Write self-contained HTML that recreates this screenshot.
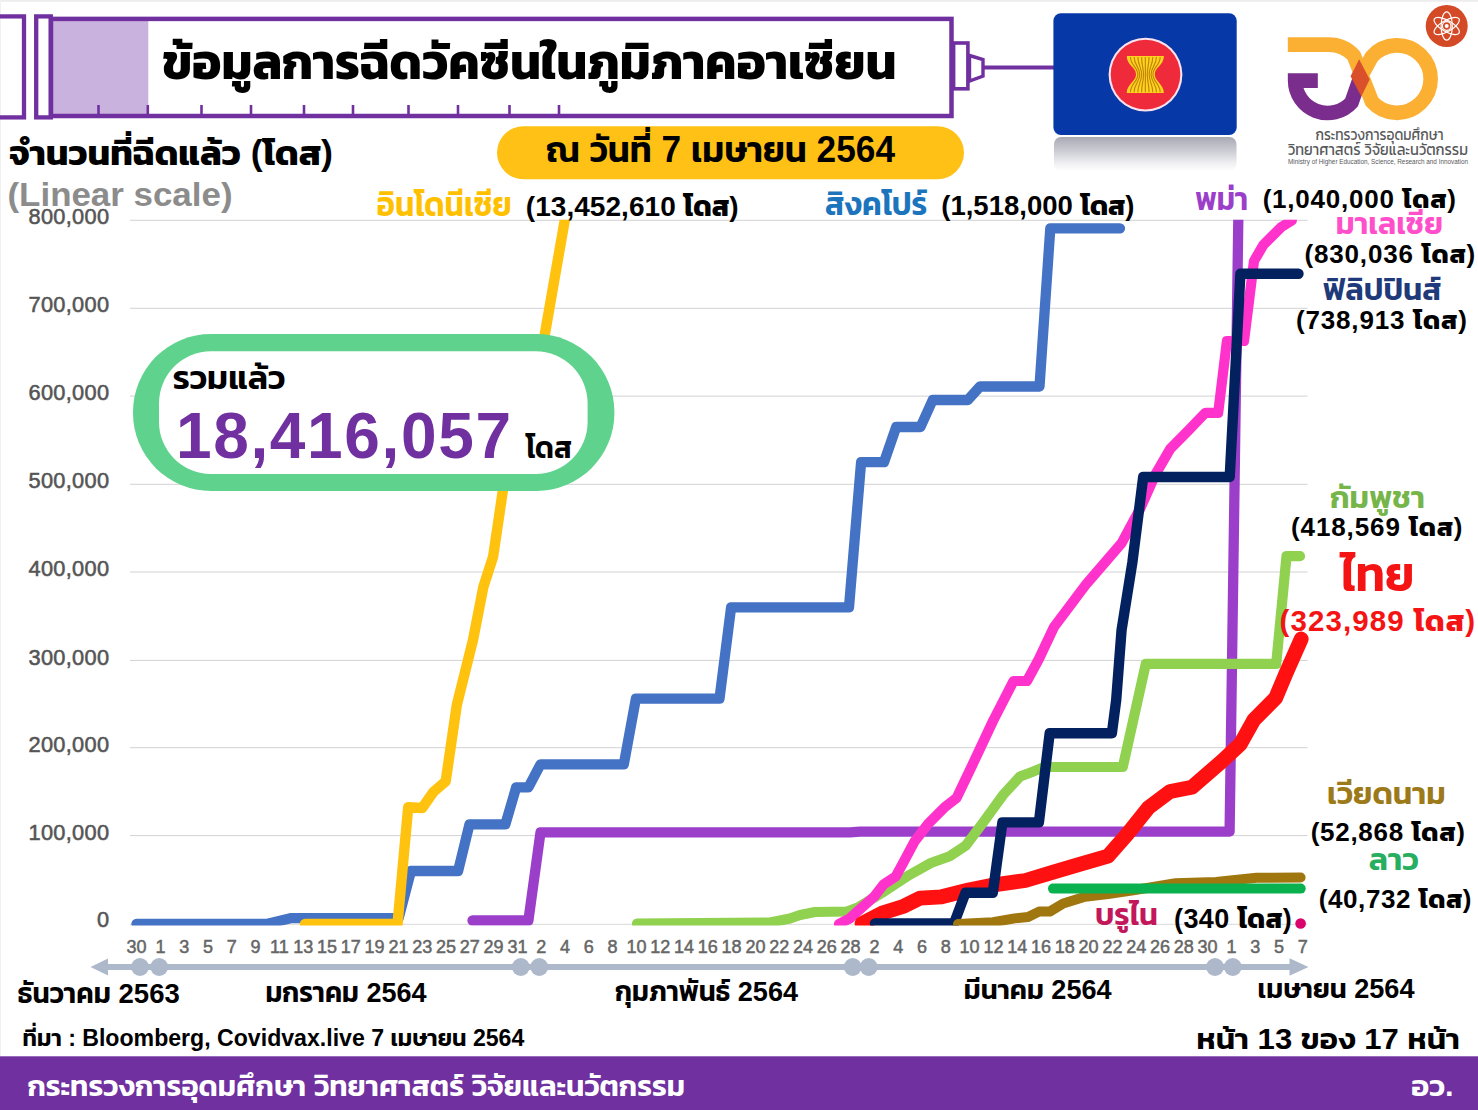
<!DOCTYPE html>
<html lang="th"><head><meta charset="utf-8"><title>ข้อมูลการฉีดวัคซีนในภูมิภาคอาเซียน</title>
<style>
html,body{margin:0;padding:0;background:#fff}
body{width:1478px;height:1110px;overflow:hidden}
svg{display:block}
svg text{font-family:'Liberation Sans','Kanit','Prompt','Noto Sans Thai','Loma',sans-serif}
</style></head><body>
<svg width="1478" height="1110" viewBox="0 0 1478 1110">
<defs>
<linearGradient id="refl" x1="0" y1="0" x2="0" y2="1"><stop offset="0" stop-color="#a9a9b4"/><stop offset="0.4" stop-color="#cbccd3"/><stop offset="0.75" stop-color="#eeeef1"/><stop offset="1" stop-color="#ffffff"/></linearGradient>
</defs>
<rect x="0" y="0" width="1478" height="1110" fill="#fff"/>
<rect x="0" y="0" width="1478" height="1.8" fill="#ededed"/>
<rect x="0" y="0" width="1" height="1110" fill="#f1f1f1"/>

<g stroke="#d2d2d2" stroke-width="1">
<line x1="130" x2="1307.5" y1="220.3" y2="220.3"/>
<line x1="130" x2="1307.5" y1="308.3" y2="308.3"/>
<line x1="130" x2="1307.5" y1="396.1" y2="396.1"/>
<line x1="130" x2="1307.5" y1="484.3" y2="484.3"/>
<line x1="130" x2="1307.5" y1="572.0" y2="572.0"/>
<line x1="130" x2="1307.5" y1="660.4" y2="660.4"/>
<line x1="130" x2="1307.5" y1="747.7" y2="747.7"/>
<line x1="130" x2="1307.5" y1="835.6" y2="835.6"/>
<line x1="130" x2="1307.5" y1="924.3" y2="924.3" stroke="#d9d9d9"/>
</g>
<clipPath id="plot"><rect x="120" y="219.8" width="1200" height="705.6"/></clipPath>
<g id="series" clip-path="url(#plot)">
<polyline points="136.5,923.8 267.6,923.8 290.5,918.2 398.6,918.2 411.0,871.0 458.1,871.0 469.5,824.3 505.4,824.3 516.2,787.3 528.4,787.3 540.5,764.4 623.8,764.4 635.9,698.6 719.5,698.6 731.1,607.3 849.0,607.3 861.1,462.2 884.0,462.2 896.2,427.0 920.5,427.0 932.7,400.0 967.8,400.0 980.0,386.5 1039.5,386.5 1050.3,228.3 1120.0,228.3" fill="none" stroke="#4472C4" stroke-width="10.3" stroke-linejoin="round" stroke-linecap="round" />
<polyline points="305.0,924.0 397.5,924.0 408.2,807.3 422.2,808.0 433.2,792.2 445.7,781.3 456.8,704.9 473.0,640.0 483.3,587.2 493.1,556.7 502.8,491.0 505.0,478.0 516.9,432.0 528.8,392.0 540.7,352.0 544.7,335.0 564.8,220.0 566.9,208.0" fill="none" stroke="#FFC20E" stroke-width="10.4" stroke-linejoin="round" stroke-linecap="round" />
<polyline points="472.5,920.5 528.4,920.5 540.5,832.4 850.0,832.4 860.0,831.7 1229.6,831.7 1238.3,220.0" fill="none" stroke="#9B3FCB" stroke-width="10.3" stroke-linejoin="round" stroke-linecap="round" />
<polyline points="637.0,923.6 770.0,922.6 790.0,918.5 800.0,915.0 815.0,912.0 847.0,911.5 857.8,907.6 882.2,892.7 909.2,875.1 930.8,863.0 949.7,856.2 965.9,845.4 982.2,823.8 1003.8,794.1 1020.0,776.5 1030.8,772.4 1044.3,767.0 1122.8,767.0 1145.8,663.9 1276.2,663.9 1286.5,556.2 1300.0,556.2" fill="none" stroke="#90D14F" stroke-width="10.2" stroke-linejoin="round" stroke-linecap="round" />
<polyline points="839.0,924.0 849.7,918.4 874.0,896.8 883.5,884.6 895.7,876.5 902.4,864.3 914.6,841.4 928.1,823.8 944.3,807.6 956.5,798.1 971.4,767.0 993.0,721.0 1013.5,681.0 1027.0,681.0 1038.9,659.0 1054.0,627.0 1086.5,583.8 1121.6,543.2 1140.5,508.0 1155.3,474.6 1170.2,448.9 1189.2,429.7 1205.4,412.8 1218.2,412.8 1226.9,341.0 1244.0,341.0 1254.0,261.0 1263.4,244.9 1281.0,227.3 1291.8,220.5" fill="none" stroke="#FF33CC" stroke-width="10.2" stroke-linejoin="round" stroke-linecap="round" />
<polyline points="862.0,923.5 882.2,913.0 903.8,906.2 920.0,898.1 941.6,896.8 968.6,890.0 995.7,884.6 1025.4,880.5 1052.4,872.4 1079.5,864.3 1108.0,856.2 1126.9,834.6 1148.5,807.6 1170.2,791.4 1191.8,787.3 1221.5,761.6 1240.4,744.0 1254.0,719.7 1275.6,698.1 1286.4,672.4 1301.2,638.9" fill="none" stroke="#FF1111" stroke-width="14.8" stroke-linejoin="round" stroke-linecap="round" />
<polyline points="875.0,923.5 954.0,923.5 965.5,892.7 992.8,892.7 1002.4,822.4 1038.9,822.4 1049.7,733.2 1111.9,733.2 1116.2,700.0 1121.6,629.7 1132.4,562.2 1143.2,477.0 1229.7,477.0 1240.4,273.8 1298.5,273.8" fill="none" stroke="#03205F" stroke-width="10.4" stroke-linejoin="round" stroke-linecap="round" />
<polyline points="958.0,924.0 993.0,922.2 1014.6,918.4 1028.1,917.0 1038.9,911.6 1049.7,911.6 1063.2,903.5 1084.9,896.8 1108.0,894.0 1135.0,890.0 1175.6,883.2 1216.0,881.9 1256.6,877.8 1300.6,877.6" fill="none" stroke="#A0770F" stroke-width="10" stroke-linejoin="round" stroke-linecap="round" />
<polyline points="1053.0,888.6 1300.7,888.6" fill="none" stroke="#09B24F" stroke-width="10" stroke-linejoin="round" stroke-linecap="round" />
</g>
<circle cx="1300.6" cy="923.5" r="5.3" fill="#D9046C"/>
<g fill="none" stroke="#7030A0" stroke-width="4.3">
<rect x="-3" y="16.4" width="27" height="101"/>
<rect x="36.2" y="16.4" width="14.6" height="101"/>
</g>
<rect x="53" y="21" width="95.3" height="93" fill="#C9B2DE"/>
<rect x="51" y="18.9" width="900.5" height="97.1" fill="none" stroke="#7030A0" stroke-width="4.5"/>
<g stroke="#7030A0" stroke-width="2.6">
<line x1="98.5" x2="98.5" y1="105" y2="114.5"/>
<line x1="147.8" x2="147.8" y1="105" y2="114.5"/>
<line x1="201.5" x2="201.5" y1="105" y2="114.5"/>
<line x1="251" x2="251" y1="105" y2="114.5"/>
<line x1="304" x2="304" y1="105" y2="114.5"/>
<line x1="353" x2="353" y1="105" y2="114.5"/>
<line x1="408.5" x2="408.5" y1="105" y2="114.5"/>
<line x1="458" x2="458" y1="105" y2="114.5"/>
<line x1="509.5" x2="509.5" y1="105" y2="114.5"/>
<line x1="559" x2="559" y1="105" y2="114.5"/>
</g>
<rect x="953.6" y="43" width="14.3" height="45.8" fill="#fff" stroke="#7030A0" stroke-width="3.6"/>
<path d="M969.5 55.5 L983 59.5 L983 76 L969.5 81 Z" fill="#fff" stroke="#7030A0" stroke-width="3.4" stroke-linejoin="miter"/>
<line x1="984" x2="1054" y1="67.6" y2="67.6" stroke="#7030A0" stroke-width="4"/>
<rect x="1054" y="137" width="182.5" height="34" rx="7" fill="url(#refl)"/>
<rect x="1053.4" y="13.3" width="183.3" height="121.6" rx="7.5" fill="#0638A7"/>
<circle cx="1145.5" cy="74.6" r="36.9" fill="#FBE3EE"/>
<circle cx="1145.5" cy="74.6" r="34.8" fill="#EE2A3B"/>
<path d="M1126.7 56.1 L1163.9 56.1 C1163.9 65.1 1154.8 67.4 1154.8 74.4 C1154.8 81.4 1163.9 84.1 1163.9 93.1 L1126.7 93.1 C1126.7 84.1 1136.0 81.4 1136.0 74.4 C1136.0 67.4 1126.7 65.1 1126.7 56.1 Z" fill="#FFD21F"/>
<g fill="none" stroke="#C0850A" stroke-width="1.15">
<path d="M1130.42 56.9 C1130.42 65.1 1137.88 67.4 1137.88 74.4 C1137.88 81.4 1130.42 84.1 1130.42 92.3"/>
<path d="M1134.14 56.9 C1134.14 65.1 1139.76 67.4 1139.76 74.4 C1139.76 81.4 1134.14 84.1 1134.14 92.3"/>
<path d="M1137.86 56.9 C1137.86 65.1 1141.64 67.4 1141.64 74.4 C1141.64 81.4 1137.86 84.1 1137.86 92.3"/>
<path d="M1141.58 56.9 C1141.58 65.1 1143.52 67.4 1143.52 74.4 C1143.52 81.4 1141.58 84.1 1141.58 92.3"/>
<path d="M1145.30 56.9 C1145.30 65.1 1145.40 67.4 1145.40 74.4 C1145.40 81.4 1145.30 84.1 1145.30 92.3"/>
<path d="M1149.02 56.9 C1149.02 65.1 1147.28 67.4 1147.28 74.4 C1147.28 81.4 1149.02 84.1 1149.02 92.3"/>
<path d="M1152.74 56.9 C1152.74 65.1 1149.16 67.4 1149.16 74.4 C1149.16 81.4 1152.74 84.1 1152.74 92.3"/>
<path d="M1156.46 56.9 C1156.46 65.1 1151.04 67.4 1151.04 74.4 C1151.04 81.4 1156.46 84.1 1156.46 92.3"/>
<path d="M1160.18 56.9 C1160.18 65.1 1152.92 67.4 1152.92 74.4 C1152.92 81.4 1160.18 84.1 1160.18 92.3"/>
</g>
<g fill="none" stroke-width="14.59">
<path d="M1317.82 80.58 L1295.12 80.58 A32.43 32.43 0 0 0 1351.65 102.27 L1360.30 77.50" stroke="#7B2D8E" stroke-linejoin="miter"/>
<path d="M1287.83 44.58 L1328.85 44.58 A33.72 33.72 0 0 1 1353.91 55.74 L1371.88 101.68 A33.72 33.72 0 1 0 1371.88 56.55 L1360.30 77.50" stroke="#FBB034" stroke-linejoin="round"/>
</g>
<path d="M1359.16 59.18 L1369.70 79.44 L1361.27 96.47 L1350.57 76.20 Z" fill="#D9502A"/>
<circle cx="1446.7" cy="26" r="21" fill="#D44A27"/>
<g fill="none" stroke="#fff" stroke-width="1.2">
<ellipse cx="1446.7" cy="26" rx="14.2" ry="5.6" transform="rotate(90 1446.7 26)"/>
<ellipse cx="1446.7" cy="26" rx="14.2" ry="5.6" transform="rotate(150 1446.7 26)"/>
<ellipse cx="1446.7" cy="26" rx="14.2" ry="5.6" transform="rotate(210 1446.7 26)"/>
<circle cx="1446.7" cy="26" r="4.3" fill="#D44A27"/>
</g>
<circle cx="1446.7" cy="26" r="2" fill="#fff"/>
<text x="1315.5" y="140.1" font-size="15.5" font-weight="400" fill="#58595B" textLength="128.0" lengthAdjust="spacingAndGlyphs" >กระทรวงการอุดมศึกษา</text>
<text x="1288.0" y="155.0" font-size="15.5" font-weight="400" fill="#58595B" textLength="180.0" lengthAdjust="spacingAndGlyphs" >วิทยาศาสตร์ วิจัยและนวัตกรรม</text>
<text x="1288.0" y="164.3" font-size="6.4" font-weight="400" fill="#58595B" textLength="180.0" lengthAdjust="spacingAndGlyphs" >Ministry of Higher Education, Science, Research and Innovation</text>
<text x="162.0" y="78.6" font-size="50" font-weight="700" fill="#000" textLength="734.5" lengthAdjust="spacingAndGlyphs" >ข้อมูลการฉีดวัคซีนในภูมิภาคอาเซียน</text>
<text x="9.0" y="165.0" font-size="34.5" font-weight="700" fill="#000" textLength="324.0" lengthAdjust="spacingAndGlyphs" >จำนวนที่ฉีดแล้ว (โดส)</text>
<text x="7.5" y="205.5" font-size="33.5" font-weight="700" fill="#8C8C8C" textLength="225.0" lengthAdjust="spacingAndGlyphs" >(Linear scale)</text>
<rect x="497" y="126.2" width="467" height="53" rx="26.5" fill="#FFC115"/>
<text x="546.0" y="162.4" font-size="36" font-weight="600" fill="#000" textLength="349.0" lengthAdjust="spacingAndGlyphs" >ณ วันที่ 7 เมษายน 2564</text>
<text x="109.4" y="224.4" font-size="21.8" font-weight="400" fill="#555" stroke="#555" stroke-width="0.55" text-anchor="end" letter-spacing="0.3">800,000</text>
<text x="109.4" y="312.4" font-size="21.8" font-weight="400" fill="#555" stroke="#555" stroke-width="0.55" text-anchor="end" letter-spacing="0.3">700,000</text>
<text x="109.4" y="400.2" font-size="21.8" font-weight="400" fill="#555" stroke="#555" stroke-width="0.55" text-anchor="end" letter-spacing="0.3">600,000</text>
<text x="109.4" y="488.4" font-size="21.8" font-weight="400" fill="#555" stroke="#555" stroke-width="0.55" text-anchor="end" letter-spacing="0.3">500,000</text>
<text x="109.4" y="576.1" font-size="21.8" font-weight="400" fill="#555" stroke="#555" stroke-width="0.55" text-anchor="end" letter-spacing="0.3">400,000</text>
<text x="109.4" y="664.5" font-size="21.8" font-weight="400" fill="#555" stroke="#555" stroke-width="0.55" text-anchor="end" letter-spacing="0.3">300,000</text>
<text x="109.4" y="751.8" font-size="21.8" font-weight="400" fill="#555" stroke="#555" stroke-width="0.55" text-anchor="end" letter-spacing="0.3">200,000</text>
<text x="109.4" y="839.7" font-size="21.8" font-weight="400" fill="#555" stroke="#555" stroke-width="0.55" text-anchor="end" letter-spacing="0.3">100,000</text>
<text x="109.4" y="927.4" font-size="21.8" font-weight="400" fill="#555" stroke="#555" stroke-width="0.55" text-anchor="end" letter-spacing="0.3">0</text>
<g font-size="18" font-weight="400" fill="#666" stroke="#666" stroke-width="0.5" text-anchor="middle">
<text x="136.6" y="952.8">30</text>
<text x="160.4" y="952.8">1</text>
<text x="184.2" y="952.8">3</text>
<text x="208.0" y="952.8">5</text>
<text x="231.8" y="952.8">7</text>
<text x="255.6" y="952.8">9</text>
<text x="279.4" y="952.8">11</text>
<text x="303.2" y="952.8">13</text>
<text x="327.0" y="952.8">15</text>
<text x="350.8" y="952.8">17</text>
<text x="374.6" y="952.8">19</text>
<text x="398.4" y="952.8">21</text>
<text x="422.2" y="952.8">23</text>
<text x="446.0" y="952.8">25</text>
<text x="469.8" y="952.8">27</text>
<text x="493.6" y="952.8">29</text>
<text x="517.4" y="952.8">31</text>
<text x="541.2" y="952.8">2</text>
<text x="565.0" y="952.8">4</text>
<text x="588.8" y="952.8">6</text>
<text x="612.6" y="952.8">8</text>
<text x="636.4" y="952.8">10</text>
<text x="660.2" y="952.8">12</text>
<text x="684.0" y="952.8">14</text>
<text x="707.8" y="952.8">16</text>
<text x="731.6" y="952.8">18</text>
<text x="755.4" y="952.8">20</text>
<text x="779.2" y="952.8">22</text>
<text x="803.0" y="952.8">24</text>
<text x="826.8" y="952.8">26</text>
<text x="850.6" y="952.8">28</text>
<text x="874.4" y="952.8">2</text>
<text x="898.2" y="952.8">4</text>
<text x="922.0" y="952.8">6</text>
<text x="945.8" y="952.8">8</text>
<text x="969.6" y="952.8">10</text>
<text x="993.4" y="952.8">12</text>
<text x="1017.2" y="952.8">14</text>
<text x="1041.0" y="952.8">16</text>
<text x="1064.8" y="952.8">18</text>
<text x="1088.6" y="952.8">20</text>
<text x="1112.4" y="952.8">22</text>
<text x="1136.2" y="952.8">24</text>
<text x="1160.0" y="952.8">26</text>
<text x="1183.8" y="952.8">28</text>
<text x="1207.6" y="952.8">30</text>
<text x="1231.4" y="952.8">1</text>
<text x="1255.2" y="952.8">3</text>
<text x="1279.0" y="952.8">5</text>
<text x="1302.8" y="952.8">7</text>
</g>
<line x1="104" x2="1294" y1="967" y2="967" stroke="#ADB9CA" stroke-width="6"/>
<path d="M90.5 967 L108 958.4 L108 975.6 Z" fill="#ADB9CA"/>
<path d="M1308.5 967 L1289.5 958.3 L1289.5 975.7 Z" fill="#ADB9CA"/>
<circle cx="140" cy="967" r="9" fill="#ADB9CA"/>
<circle cx="159.2" cy="967" r="9" fill="#ADB9CA"/>
<circle cx="520.8" cy="967" r="9" fill="#ADB9CA"/>
<circle cx="539.3" cy="967" r="9" fill="#ADB9CA"/>
<circle cx="852.7" cy="967" r="9" fill="#ADB9CA"/>
<circle cx="868.7" cy="967" r="9" fill="#ADB9CA"/>
<circle cx="1215" cy="967" r="9" fill="#ADB9CA"/>
<circle cx="1232.8" cy="967" r="9" fill="#ADB9CA"/>
<text x="17.5" y="1003.0" font-size="28" font-weight="600" fill="#000" textLength="162.3" lengthAdjust="spacingAndGlyphs" >ธันวาคม 2563</text>
<text x="265.4" y="1001.8" font-size="28" font-weight="600" fill="#000" textLength="161.2" lengthAdjust="spacingAndGlyphs" >มกราคม 2564</text>
<text x="615.0" y="1000.6" font-size="28" font-weight="600" fill="#000" textLength="183.0" lengthAdjust="spacingAndGlyphs" >กุมภาพันธ์ 2564</text>
<text x="963.8" y="999.2" font-size="27" font-weight="600" fill="#000" textLength="147.8" lengthAdjust="spacingAndGlyphs" >มีนาคม 2564</text>
<text x="1257.6" y="997.6" font-size="27" font-weight="600" fill="#000" textLength="156.9" lengthAdjust="spacingAndGlyphs" >เมษายน 2564</text>
<text x="22.5" y="1045.5" font-size="24" font-weight="600" fill="#000" textLength="501.8" lengthAdjust="spacingAndGlyphs" >ที่มา : Bloomberg, Covidvax.live 7 เมษายน 2564</text>
<text x="1196.5" y="1049.0" font-size="29" font-weight="600" fill="#000" textLength="263.5" lengthAdjust="spacingAndGlyphs" >หน้า 13 ของ 17 หน้า</text>
<rect x="0" y="1056.3" width="1478" height="53.7" fill="#7030A0"/>
<text x="27.5" y="1095.6" font-size="29" font-weight="600" fill="#fff" textLength="657.5" lengthAdjust="spacingAndGlyphs" >กระทรวงการอุดมศึกษา วิทยาศาสตร์ วิจัยและนวัตกรรม</text>
<text x="1411.0" y="1095.6" font-size="29" font-weight="600" fill="#fff" textLength="42.6" lengthAdjust="spacingAndGlyphs" >อว.</text>
<rect x="133" y="334" width="481.4" height="157" rx="78" fill="#5FD38D"/>
<rect x="159" y="351.3" width="428.6" height="122.6" rx="52" fill="#fff"/>
<text x="172.8" y="389.2" font-size="32" font-weight="600" fill="#000" textLength="112.6" lengthAdjust="spacingAndGlyphs" >รวมแล้ว</text>
<text x="176.0" y="457.8" font-size="64" font-weight="700" fill="#7030A0" textLength="335.0" lengthAdjust="spacing" >18,416,057</text>
<text x="525.8" y="457.8" font-size="30" font-weight="600" fill="#000" textLength="46.2" lengthAdjust="spacingAndGlyphs" >โดส</text>
<text x="376.6" y="215.6" font-size="33.5" font-weight="600" fill="#FFC000" textLength="135.2" lengthAdjust="spacingAndGlyphs" >อินโดนีเซีย</text>
<text x="525.8" y="215.8" font-size="28" font-weight="700" fill="#000" textLength="212.8" lengthAdjust="spacing" >(13,452,610 โดส)</text>
<text x="824.9" y="215.0" font-size="33" font-weight="600" fill="#1C75BC" textLength="102.3" lengthAdjust="spacingAndGlyphs" >สิงคโปร์</text>
<text x="941.2" y="215.3" font-size="27.5" font-weight="700" fill="#000" textLength="193.2" lengthAdjust="spacing" >(1,518,000 โดส)</text>
<text x="1195.3" y="209.9" font-size="32" font-weight="600" fill="#9B3FCB" textLength="52.9" lengthAdjust="spacingAndGlyphs" >พม่า</text>
<text x="1262.7" y="208.3" font-size="26" font-weight="700" fill="#000" textLength="193.1" lengthAdjust="spacing" >(1,040,000 โดส)</text>
<text x="1335.8" y="234.3" font-size="30" font-weight="600" fill="#FF4FCB" textLength="107.2" lengthAdjust="spacingAndGlyphs" >มาเลเซีย</text>
<text x="1304.5" y="263.4" font-size="26" font-weight="700" fill="#000" textLength="170.7" lengthAdjust="spacing" >(830,036 โดส)</text>
<text x="1322.8" y="300.2" font-size="30" font-weight="600" fill="#1F3A7A" textLength="118.7" lengthAdjust="spacingAndGlyphs" >ฟิลิปปินส์</text>
<text x="1296.0" y="329.3" font-size="26" font-weight="700" fill="#000" textLength="170.8" lengthAdjust="spacing" >(738,913 โดส)</text>
<text x="1330.0" y="508.0" font-size="31" font-weight="600" fill="#76B54A" textLength="95.0" lengthAdjust="spacingAndGlyphs" >กัมพูชา</text>
<text x="1291.0" y="536.0" font-size="26" font-weight="700" fill="#000" textLength="171.5" lengthAdjust="spacing" >(418,569 โดส)</text>
<text x="1340.5" y="590.5" font-size="49" font-weight="600" fill="#F41414" textLength="74.0" lengthAdjust="spacingAndGlyphs" >ไทย</text>
<text x="1279.5" y="630.5" font-size="29.5" font-weight="700" fill="#F41414" textLength="195.5" lengthAdjust="spacing" >(323,989 โดส)</text>
<text x="1327.0" y="803.5" font-size="30" font-weight="600" fill="#9C7A1A" textLength="118.8" lengthAdjust="spacingAndGlyphs" >เวียดนาม</text>
<text x="1310.7" y="841.4" font-size="26" font-weight="700" fill="#000" textLength="154.1" lengthAdjust="spacing" >(52,868 โดส)</text>
<text x="1368.8" y="869.7" font-size="30" font-weight="600" fill="#27AE60" textLength="50.0" lengthAdjust="spacingAndGlyphs" >ลาว</text>
<text x="1318.8" y="907.6" font-size="26" font-weight="700" fill="#000" textLength="152.7" lengthAdjust="spacing" >(40,732 โดส)</text>
<text x="1095.0" y="925.0" font-size="30" font-weight="600" fill="#C2185B" textLength="63.0" lengthAdjust="spacingAndGlyphs" >บรูไน</text>
<text x="1174.0" y="927.8" font-size="27" font-weight="700" fill="#000" textLength="117.8" lengthAdjust="spacing" >(340 โดส)</text>
</svg></body></html>
